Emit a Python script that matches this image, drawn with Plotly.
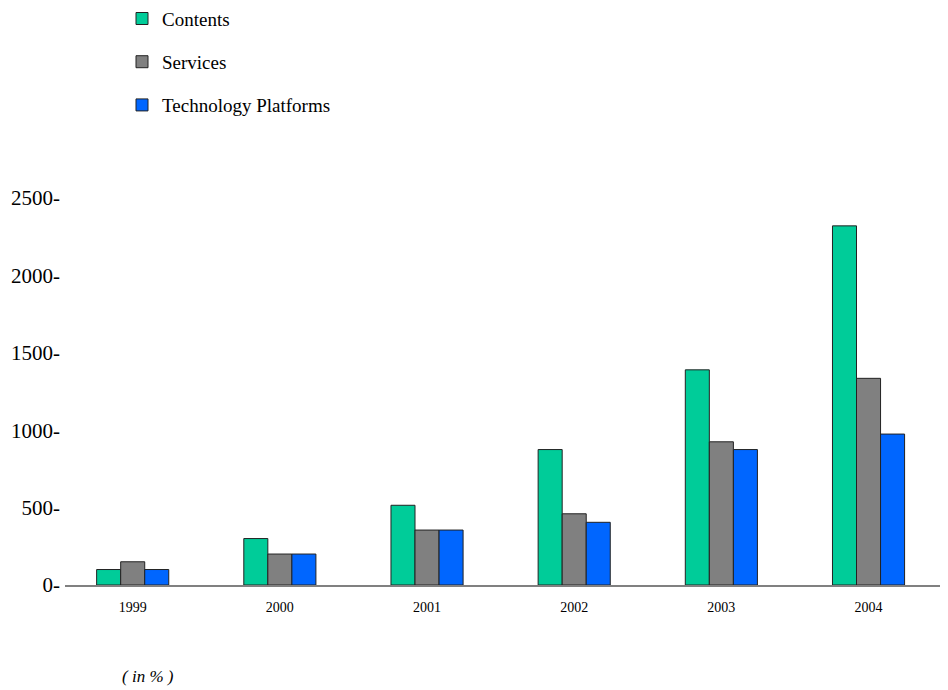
import plotly.graph_objects as go

years = ["1999", "2000", "2001", "2002", "2003", "2004"]
contents = [100, 300, 515, 875, 1390, 2320]
services = [150, 200, 355, 460, 925, 1335]
technology = [100, 200, 355, 405, 875, 975]
series_names = ["Contents", "Services", "Technology Platforms"]
series_colors = ["#00CC99", "#808080", "#0066FF"]
y_ticks = [0, 500, 1000, 1500, 2000, 2500]
y_tick_labels = ["0-", "500-", "1000-", "1500-", "2000-", "2500-"]

fig = go.Figure()
for name, vals, col in zip(series_names, [contents, services, technology], series_colors):
    fig.add_trace(go.Bar(
        x=years, y=vals, name=name, legendgroup=name,
        marker=dict(color=col, line=dict(color="#222222", width=1)),
    ))

# page body has an 8px margin, so the figure is 940x682
W, H = 940, 682
L, T, B = 57, 190, 105
pw = W - L
ph = H - T - B

fig.update_layout(
    width=W, height=H,
    margin=dict(l=L, r=0, t=T, b=B, autoexpand=False),
    paper_bgcolor="white", plot_bgcolor="white",
    barmode="group", bargap=0.51, bargroupgap=0,
    font=dict(family="Liberation Serif", color="black"),
    showlegend=True,
    legend=dict(
        x=(114 - L) / pw, y=1.5125, xanchor="left", yanchor="top",
        font=dict(size=19, family="Liberation Serif"),
        traceorder="grouped", tracegroupgap=15.5,
        bgcolor="rgba(0,0,0,0)", borderwidth=0,
    ),
    xaxis=dict(
        type="category", range=[-0.46, 5.54],
        showline=True, linecolor="#808080", linewidth=2,
        showgrid=False, ticks="", ticklabelstandoff=8,
        tickfont=dict(size=14, family="Liberation Serif"),
    ),
    yaxis=dict(
        range=[0, 2500], showline=False, showgrid=False, zeroline=False,
        tickmode="array", tickvals=y_ticks, ticktext=y_tick_labels,
        ticks="", ticklabelstandoff=4,
        tickfont=dict(size=21, family="Liberation Serif"),
    ),
    annotations=[dict(
        text="<i>( in % )</i>", xref="paper", yref="paper",
        x=(140 - L) / pw, y=-(668 - 577) / ph,
        xanchor="center", yanchor="middle", showarrow=False,
        font=dict(size=17, family="Liberation Serif"),
    )],
)

fig.write_html("out.html")
